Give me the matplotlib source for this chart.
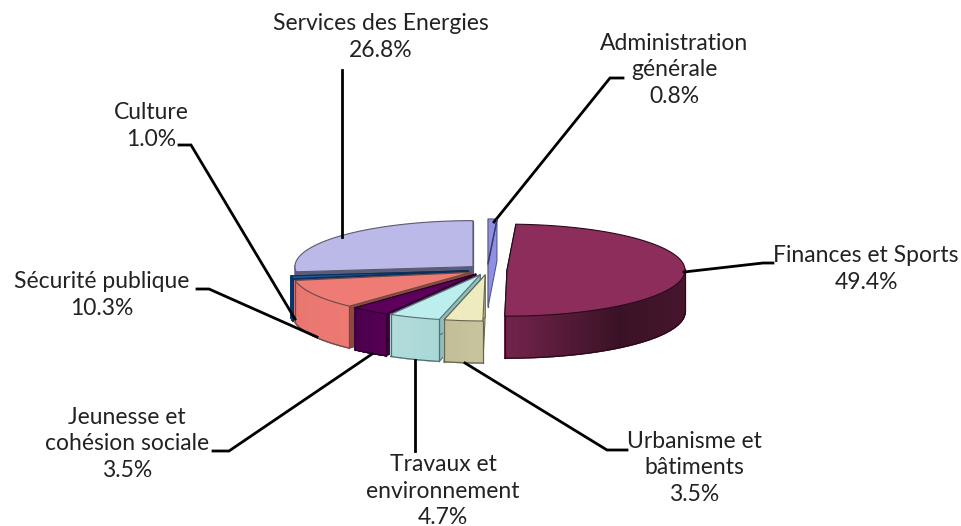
import numpy as np
import matplotlib
matplotlib.use('Agg')
import matplotlib.pyplot as plt
from matplotlib.patches import Polygon
from matplotlib.colors import to_rgb

# Donnees du graphique
secteurs = ['Administration\ngénérale', 'Finances et Sports', 'Urbanisme et\nbâtiments',
            'Travaux et\nenvironnement', 'Jeunesse et\ncohésion sociale', 'Sécurité publique',
            'Culture', 'Services des Energies']
valeurs = [0.8, 49.4, 3.5, 4.7, 3.5, 10.3, 1.0, 26.8]
coul_dessus = ['#8f8fe6', '#8c2d5c', '#eeebbe', '#bbeeec', '#5c005c', '#ee7b74', '#1c5a9c', '#bbb9e8']
coul_cote1 = ['#7a7ac8', '#74244c', '#c8c59e', '#a8d8d6', '#560056', '#ec7a72', '#0e3f78', '#8f8db8']
coul_cote2 = ['#7a7ac8', '#3a1226', '#c2bf98', '#b2dcdb', '#4c004c', '#e87670', '#0e3f78', '#8f8db8']
coul_rayon = ['#8f8fe6', '#5c2040', '#d8d5ac', '#8ebdbb', '#3c003c', '#8a4a40', '#0b2f5c', '#5c5c78']
coul_bord = ['#555588', '#2a0a1a', '#666650', '#557070', '#2a002a', '#6a4a48', '#0b2f5c', '#5a5a70']

# Etiquettes : x, y du centre du texte (pixels)
pos_etiq = [(674, 70), (866, 269), (694, 468), (443, 491), (127, 444), (102, 295), (151, 126), (381, 37)]

# Lignes de rappel (pixels)
rappels = [[(623, 78), (610, 78), (494, 222)],
           [(684, 272), (763, 263), (773, 263)],
           [(465, 363), (607, 450), (627, 450)],
           [(415, 360), (415, 451)],
           [(372, 354), (229, 451), (213, 451)],
           [(317, 337), (209, 289), (197, 289)],
           [(295, 319), (191, 145), (179, 145)],
           [(342, 237), (342, 70)]]
trait_admin = [(497, 220), (488, 263)]

# Geometrie du camembert 3D
cx0, cy0 = 487.5, 270
a, b = 178, 46
h = 42
ecart = 19.5
ordre = [7, 0, 6, 5, 4, 3, 2, 1]

fig = plt.figure(figsize=(9.61, 5.26), dpi=100)
ax = fig.add_axes([0, 0, 1, 1])
ax.set_xlim(0, 961)
ax.set_ylim(526, 0)
ax.axis('off')

bornes = np.cumsum([0] + valeurs) / sum(valeurs) * 2 * np.pi


def poly(pts, coul, lw=0.8, ec='#555555', z=2):
    ax.add_patch(Polygon(pts, closed=True, fc=coul, ec=ec, lw=lw, joinstyle='round', zorder=z))


for i in ordre:
    t0, t1 = bornes[i], bornes[i + 1]
    milieu = (t0 + t1) / 2
    cx = cx0 + ecart * np.sin(milieu)
    cy = cy0 - ecart * (b / a) * np.cos(milieu)
    t = np.linspace(t0, t1, 160)
    rx = cx + a * np.sin(t)
    ry = cy - b * np.cos(t)
    bord = coul_bord[i]
    # faces radiales
    for tt in (t0, t1):
        px, py = cx + a * np.sin(tt), cy - b * np.cos(tt)
        poly([(cx, cy), (px, py), (px, py + h), (cx, cy + h)], coul_rayon[i], ec=bord)
    # paroi exterieure en degrade
    c1, c2 = np.array(to_rgb(coul_cote1[i])), np.array(to_rgb(coul_cote2[i]))
    for k in range(len(t) - 1):
        if np.cos((t[k] + t[k + 1]) / 2) > 0.02:
            continue
        if i == 1:
            # sombre vers x=620 puis un peu plus clair au bord droit
            f = np.clip((rx[k] - 505) / 115, 0, 1)
            if rx[k] > 620:
                f = 1 - 0.2 * (rx[k] - 620) / 64
        else:
            f = k / len(t)
        coul = c1 + (c2 - c1) * f
        poly([(rx[k], ry[k]), (rx[k + 1], ry[k + 1]), (rx[k + 1], ry[k + 1] + h), (rx[k], ry[k] + h)],
             coul, lw=1.0, ec=coul)
    # contour de la paroi
    vis = np.cos(t) <= 0.02
    if vis.any():
        ax.plot(rx[vis], ry[vis] + h, color=bord, lw=0.9, zorder=2)
        for idx in (np.where(vis)[0][0], np.where(vis)[0][-1]):
            ax.plot([rx[idx], rx[idx]], [ry[idx], ry[idx] + h], color=bord, lw=0.9, zorder=2)
    # dessus
    poly([(cx, cy)] + list(zip(rx, ry)), coul_dessus[i], ec=bord)

# Lignes de rappel et etiquettes
for pts in rappels:
    xs, ys = zip(*pts)
    ax.plot(xs, ys, color='black', lw=2, solid_joinstyle='miter', zorder=5)
ax.plot(*zip(*trait_admin), color='#3a3a70', lw=1, zorder=5)

for nom, val, (x, y) in zip(secteurs, valeurs, pos_etiq):
    ax.text(x, y, f'{nom}\n{val:.1f}%', ha='center', va='center', fontsize=16.5,
            family=['Lato', 'DejaVu Sans'], color='#222222', linespacing=1.3, zorder=6)

fig.savefig('out.png', dpi=100)
